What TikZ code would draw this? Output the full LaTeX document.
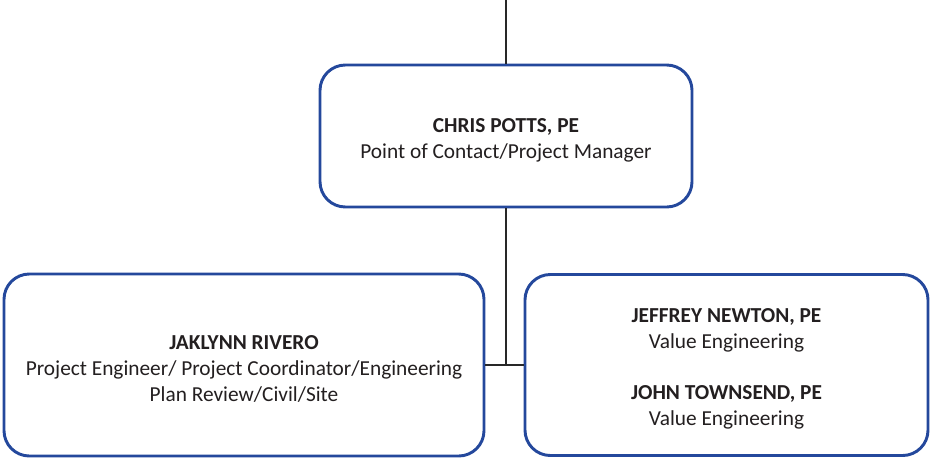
\documentclass[tikz,border=0pt]{standalone}
\usepackage{fontspec}
\setmainfont{Carlito}
\definecolor{boxblue}{RGB}{36,72,156}
\definecolor{txt}{RGB}{35,31,32}
\definecolor{conn}{RGB}{40,40,40}
\begin{document}
\begin{tikzpicture}[x=0.75pt,y=-0.75pt,
  person/.style={draw=boxblue, line width=2.2pt, rounded corners=19pt, fill=white, inner sep=0pt},
  persontext/.style={text=txt, align=center, inner sep=0pt,
    font=\fontsize{16pt}{19.5pt}\selectfont},
  link/.style={draw=conn, line width=0.8pt}]
\useasboundingbox (0,0) rectangle (930,458);
\node[person, minimum width=372*0.75pt, minimum height=142*0.75pt] (potts) at (506,136) {};
\node[person, minimum width=480*0.75pt, minimum height=182*0.75pt] (rivero) at (244,365) {};
\node[person, minimum width=403*0.75pt, minimum height=181*0.75pt] (ve) at (726.5,365) {};
\node[persontext] (pottstext) at ([yshift=-3pt]potts.center)
  {\textbf{CHRIS POTTS, PE}\\Point of Contact/Project Manager};
\node[persontext] (riverotext) at ([yshift=-3pt]rivero.center)
  {\textbf{JAKLYNN RIVERO}\\Project Engineer/ Project Coordinator/Engineering\\Plan Review/Civil/Site};
\node[persontext] (vetext) at ([yshift=-3pt]ve.center)
  {\textbf{JEFFREY NEWTON, PE}\\Value Engineering\\[19pt]\textbf{JOHN TOWNSEND, PE}\\Value Engineering};
\coordinate (topend) at (506,0);
\coordinate (junction) at (506,365);
\draw[link] (topend) -- (potts.north);
\draw[link] (potts.south) -- (junction);
\draw[link] (rivero.east) -- (ve.west);
\end{tikzpicture}
\end{document}
